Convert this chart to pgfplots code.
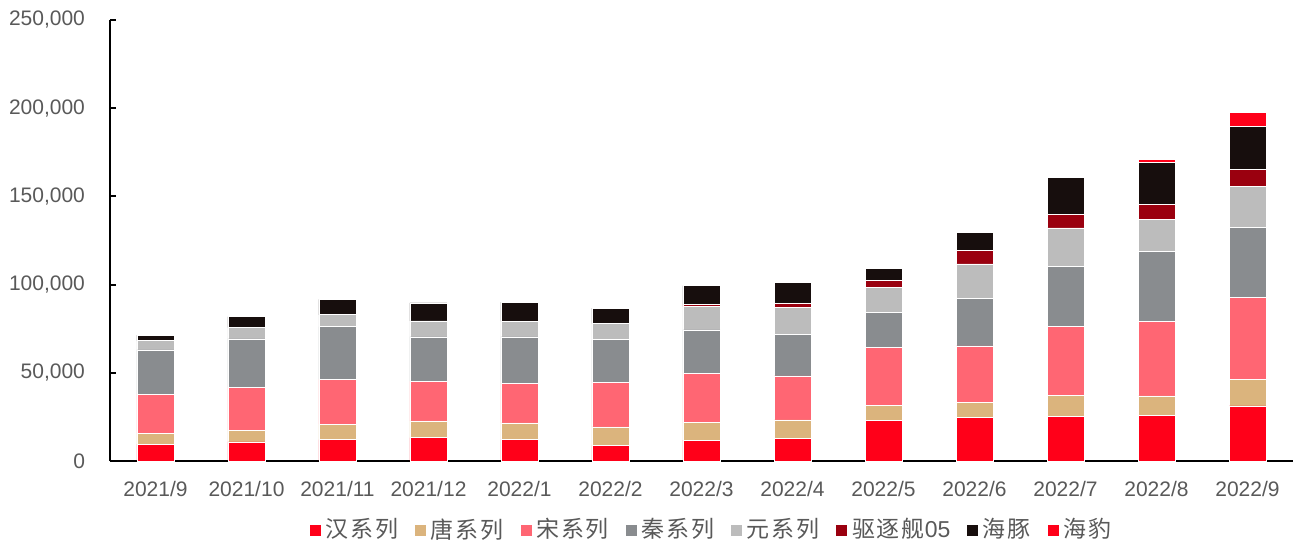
\documentclass[border=0pt]{standalone}
\usepackage{fontspec}
\setmainfont{Liberation Sans}
\newfontfamily\cjk[LetterSpace=8]{Noto Sans CJK SC}
\usepackage{pgfplots}
\usepackage{pgfplotstable}
\pgfplotsset{compat=1.18}
\definecolor{cHan}{HTML}{FF0019}
\definecolor{cTang}{HTML}{DBB47D}
\definecolor{cSong}{HTML}{FF6673}
\definecolor{cQin}{HTML}{898C8F}
\definecolor{cYuan}{HTML}{BCBCBC}
\definecolor{cQzj}{HTML}{9A000F}
\definecolor{cHaitun}{HTML}{170E0D}
\definecolor{cHaibao}{HTML}{FF0019}
\definecolor{txt}{HTML}{595959}
\pgfplotstableread{
x han tang song qin yuan qzj haitun haibao
0 9600 6200 22100 25100 5300 0 3000 0
1 10800 6600 24400 27400 6400 0 6200 0
2 12100 8700 25500 29800 6800 0 8700 0
3 13200 9500 22500 25100 9100 0 10200 0
4 12100 9500 22500 26300 8700 0 11000 0
5 8900 10400 25100 24400 9100 0 8700 0
6 11900 9800 28000 24600 13200 1400 10500 0
7 12900 10400 24900 23400 15300 2500 11700 0
8 23200 8500 32500 20200 13800 4400 6800 0
9 24900 8500 31800 26800 19700 7500 10400 0
10 25100 12300 38700 34000 22100 7600 21100 0
11 25700 11200 42400 39500 18100 8700 23600 1900
12 31200 14900 46700 39500 23200 9600 24400 7900
}\data
\begin{document}
\begin{tikzpicture}
\begin{axis}[
  scale only axis,
  width=591.5pt, height=220.5pt,
  ybar stacked, bar width=18.5pt,
  xmin=-0.5, xmax=12.5, ymin=0, ymax=250000,
  xtick=data,
  xticklabels={2021/9,2021/10,2021/11,2021/12,2022/1,2022/2,2022/3,2022/4,2022/5,2022/6,2022/7,2022/8,2022/9},
  ytick={0,50000,100000,150000,200000,250000},
  scaled y ticks=false,
  /pgf/number format/.cd, fixed, 1000 sep={,}, assume math mode=true,
  /pgfplots/.cd,
  axis x line*=bottom, axis y line*=left,
  axis line style={line width=1pt, black, -},
  major x tick style={draw=none},
  ytick style={line width=1pt, black},
  tick align=inside, major tick length=3pt,
  yticklabel style={font=\fontsize{10.5}{12}\selectfont, text=txt, xshift=-9pt},
  xticklabel style={font=\fontsize{10.5}{12}\selectfont, text=txt, yshift=-6.5pt},
  legend style={at={(0.509,-0.156)}, anchor=center, draw=none, fill=none,
    font=\fontsize{11.5}{13}\selectfont, text=txt,
    /tikz/every even column/.append style={column sep=6pt}},
  legend columns=8,
  legend image code/.code={\fill (0pt,-3pt) rectangle (6pt,3pt);},
  every axis plot/.append style={draw=white, line width=0.3pt},
]
\addplot[fill=cHan] table[x=x,y=han]{\data};
\addlegendentry{\cjk 汉系列}
\addplot[fill=cTang] table[x=x,y=tang]{\data};
\addlegendentry{\cjk 唐系列}
\addplot[fill=cSong] table[x=x,y=song]{\data};
\addlegendentry{\cjk 宋系列}
\addplot[fill=cQin] table[x=x,y=qin]{\data};
\addlegendentry{\cjk 秦系列}
\addplot[fill=cYuan] table[x=x,y=yuan]{\data};
\addlegendentry{\cjk 元系列}
\addplot[fill=cQzj] table[x=x,y=qzj]{\data};
\addlegendentry{{\cjk 驱逐舰}05}
\addplot[fill=cHaitun] table[x=x,y=haitun]{\data};
\addlegendentry{\cjk 海豚}
\addplot[fill=cHaibao] table[x=x,y=haibao]{\data};
\addlegendentry{\cjk 海豹}
\end{axis}
\path (current axis.south west) ++(-55pt,-40.5pt) coordinate (bl);
\path (bl) ++(649pt,271pt) coordinate (tr);
\path (bl) rectangle (tr);
\end{tikzpicture}
\end{document}
